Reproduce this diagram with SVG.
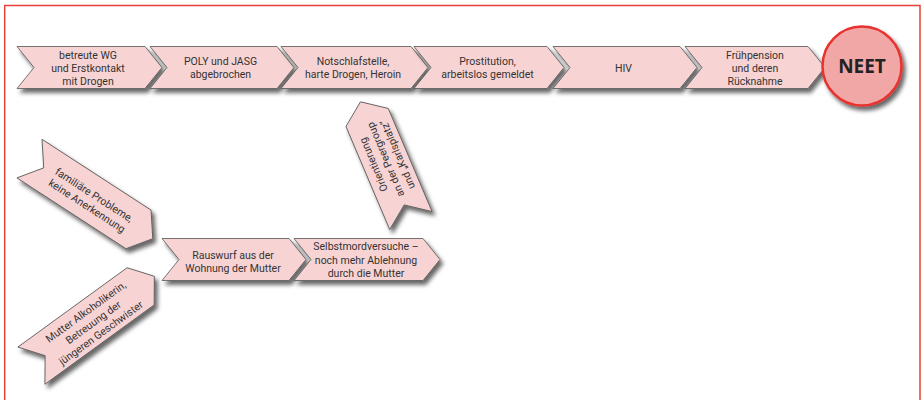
<svg xmlns="http://www.w3.org/2000/svg" width="923" height="400" viewBox="0 0 923 400">
<defs>
<style>
.s{fill:#f8d3d3;stroke:#555;stroke-width:0.8}
.t{font-family:Roboto,"Liberation Sans",sans-serif;font-size:10.5px;fill:#333;text-anchor:middle}
.neet{font-family:"Open Sans","Liberation Sans",sans-serif;font-size:19px;font-weight:bold;fill:#222;text-anchor:middle}
</style>
<filter id="sh" x="-20%" y="-30%" width="150%" height="170%">
<feDropShadow dx="3" dy="4" stdDeviation="2" flood-color="#000" flood-opacity="0.6"/>
</filter>
</defs>
<rect x="4.7" y="5.5" width="915.3" height="410" fill="#fff" stroke="#e8403a" stroke-width="1.5"/>
<g id="connectors"/>
<g id="n1">
<polygon class="s" filter="url(#sh)" points="17,46.5 145,46.5 162,67.5 145,88.5 17,88.5 34,67.5"/>
<text class="t" y="58.5"><tspan x="88">betreute WG</tspan><tspan x="88" dy="13">und Erstkontakt</tspan><tspan x="88" dy="13">mit Drogen</tspan></text>
</g>
<g id="n2">
<polygon class="s" filter="url(#sh)" points="150,46.5 277,46.5 294,67.5 277,88.5 150,88.5 167,67.5"/>
<text class="t" y="65"><tspan x="220.5">POLY und JASG</tspan><tspan x="220.5" dy="13">abgebrochen</tspan></text>
</g>
<g id="n3">
<polygon class="s" filter="url(#sh)" points="281,46.5 411,46.5 428,67.5 411,88.5 281,88.5 298,67.5"/>
<text class="t" y="65"><tspan x="353">Notschlafstelle,</tspan><tspan x="353" dy="13">harte Drogen, Heroin</tspan></text>
</g>
<g id="n4">
<polygon class="s" filter="url(#sh)" points="414,46.5 547,46.5 564,67.5 547,88.5 414,88.5 431,67.5"/>
<text class="t" y="65"><tspan x="487.5">Prostitution,</tspan><tspan x="487.5" dy="13">arbeitslos gemeldet</tspan></text>
</g>
<g id="n5">
<polygon class="s" filter="url(#sh)" points="553,46.5 680,46.5 697,67.5 680,88.5 553,88.5 570,67.5"/>
<text class="t" x="623.5" y="71.5">HIV</text>
</g>
<g id="n6">
<polygon class="s" filter="url(#sh)" points="685,46.5 808,46.5 825,67.5 808,88.5 685,88.5 702,67.5"/>
<text class="t" y="58.5"><tspan x="755">Frühpension</tspan><tspan x="755" dy="13">und deren</tspan><tspan x="755" dy="13">Rücknahme</tspan></text>
</g>
<g id="neet">
<circle cx="862" cy="66" r="39.5" fill="#f2a7a7" stroke="#e8322f" stroke-width="2.5" filter="url(#sh)"/>
<text class="neet" x="862" y="72.5">NEET</text>
</g>
<g id="n7">
<g filter="url(#sh)"><polygon class="s" transform="translate(84,194) rotate(33)" points="-65,-23 65,-23 82,0 65,23 -65,23 -48,0"/></g>
<text class="t" transform="translate(84,194) rotate(33)" y="-1"><tspan x="9">familiäre Probleme,</tspan><tspan x="9" dy="13">keine Anerkennung</tspan></text>
</g>
<g id="n8">
<g filter="url(#sh)"><polygon class="s" transform="translate(86,326) rotate(-36)" points="-67.5,-23 67.5,-23 84.5,0 67.5,23 -67.5,23 -50.5,0"/></g>
<text class="t" transform="translate(86,326) rotate(-36)" y="-8"><tspan x="8">Mutter Alkoholikerin,</tspan><tspan x="8" dy="13">Betreuung der</tspan><tspan x="8" dy="13">jüngeren Geschwister</tspan></text>
</g>
<g id="n9">
<polygon class="s" filter="url(#sh)" points="162,238.5 289,238.5 306,259.5 289,280.5 162,280.5 179,259.5"/>
<text class="t" y="258.5"><tspan x="233">Rauswurf aus der</tspan><tspan x="233" dy="13">Wohnung der Mutter</tspan></text>
</g>
<g id="n10">
<polygon class="s" filter="url(#sh)" points="294,238.5 423,238.5 440,259.5 423,280.5 294,280.5 311,259.5"/>
<text class="t" y="250"><tspan x="366">Selbstmordversuche –</tspan><tspan x="366" dy="13.5">noch mehr Ablehnung</tspan><tspan x="366" dy="13.5">durch die Mutter</tspan></text>
</g>
<g id="n11">
<g filter="url(#sh)"><polygon class="s" transform="translate(389,169) rotate(-113)" points="-56,-23 56,-23 73,0 56,23 -56,23 -39,0"/></g>
<text class="t" transform="translate(389,169) rotate(-113)" y="-9"><tspan x="10">Orientierung</tspan><tspan x="10" dy="13">an der Peergroup</tspan><tspan x="10" dy="13">und „Karlsplatz“</tspan></text>
</g>
</svg>
